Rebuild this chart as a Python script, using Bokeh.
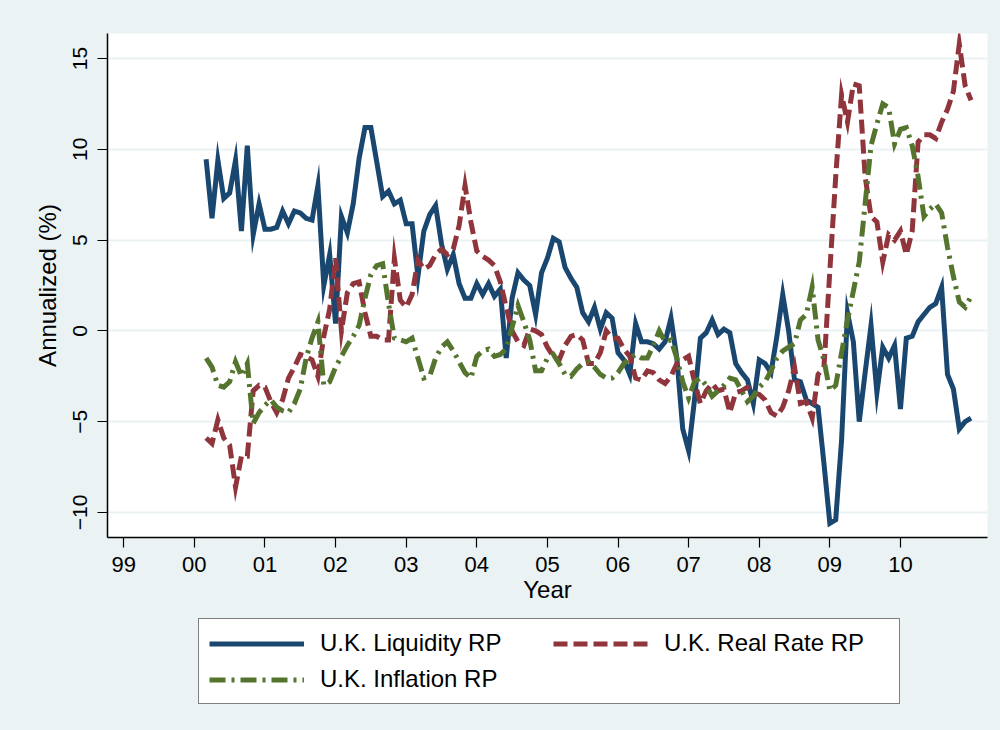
from bokeh.plotting import figure
from bokeh.layouts import column
from bokeh.models import Legend, LegendItem, FixedTicker, Range1d
from bokeh.embed import file_html
from bokeh.resources import INLINE

# Monthly series, starting March 2000
start_year = 2000
start_month = 3

liquidity = [9.45, 6.2, 9.4, 7.3, 7.6, 9.4, 5.5, 10.2, 5.3, 7.0,
             5.6, 5.6, 5.7, 6.6, 5.9, 6.6, 6.5, 6.2, 6.1, 8.0,
             2.5, 4.2, 0.4, 6.3, 5.4, 7.0, 9.5, 11.2, 11.2, 9.3,
             7.4, 7.7, 7.0, 7.2, 5.9, 5.9, 3.0, 5.5, 6.4, 6.9,
             4.8, 3.4, 4.2, 2.6, 1.8, 1.8, 2.6, 2.0, 2.6, 1.9,
             2.3, -1.5, 1.8, 3.2, 2.8, 2.5, 0.9, 3.2, 4.0, 5.1,
             4.9, 3.5, 2.9, 2.4, 1.0, 0.5, 1.3, 0.1, 1.0, 0.7,
             -1.2, -1.6, -2.4, 0.4, -0.6, -0.6, -0.7, -1.0, -0.6, 0.7,
             -1.5, -5.4, -6.6, -3.8, -0.4, -0.1, 0.6, -0.2, 0.1, -0.1,
             -1.8, -2.3, -2.7, -4.0, -1.6, -1.8, -2.3, -0.3, 2.0, 0.0,
             -2.7, -2.8, -3.8, -4.0, -4.2, -7.3, -10.6, -10.4, -6.0, 1.0,
             -0.6, -5.0, -2.3, 0.3, -3.4, -0.9, -1.5, -0.8, -4.3, -0.4,
             -0.3, 0.5, 0.9, 1.3, 1.5, 2.4, -2.4, -3.2, -5.4, -5.0,
             -4.8]

real_rate = [-5.9, -6.2, -4.9, -5.9, -6.3, -8.6, -6.9, -6.9, -3.3, -3.0,
             -3.1, -3.9, -4.5, -3.8, -2.6, -2.0, -1.3, -1.4, -1.6, -2.5,
             -0.3, 1.2, 4.0, 0.0, 2.1, 2.6, 2.7, 1.0, -0.3, -0.3,
             -0.5, -0.5, 4.0, 1.7, 1.3, 2.0, 3.9, 3.4, 3.6, 4.2,
             4.5, 4.2, 4.5, 5.8, 8.0, 6.0, 4.4, 4.1, 3.9, 3.6,
             2.7, 1.3, 0.0, -0.6, -0.8, 0.1, 0.0, -0.2, -0.9, -1.4,
             -1.6, -0.8, -0.3, -0.2, -0.5, -1.8, -1.8, -1.2, 0.0, -0.4,
             -0.4, -1.0, -1.4, -2.6, -2.7, -2.2, -2.3, -2.7, -2.9, -2.5,
             -1.8, -1.6, -1.4, -2.8, -4.0, -3.3, -2.9, -3.3, -3.2, -4.5,
             -3.4, -3.3, -3.1, -3.4, -3.5, -3.8, -4.5, -4.7, -4.2, -3.3,
             -2.0, -4.0, -3.9, -4.8, -2.4, -2.0, 3.3, 8.5, 13.0, 11.5,
             13.6, 13.5, 8.5, 6.3, 6.0, 3.8, 5.3, 5.0, 5.5, 4.2,
             5.5, 10.4, 10.8, 10.8, 10.6, 11.5, 12.2, 13.2, 15.8, 13.5,
             12.7]

inflation = [-1.5, -2.0, -3.0, -3.1, -2.8, -1.7, -2.5, -1.8, -5.1, -4.5,
             -4.1, -3.8, -4.2, -4.4, -4.5, -4.0, -3.2, -1.5, -0.4, 0.5,
             -3.0, -2.8, -2.0, -1.4, -0.8, -0.3, 0.3, 1.8, 3.1, 3.6,
             3.7, 1.5, -0.4, -0.5, -0.6, -0.4, -1.5, -2.6, -2.5, -1.5,
             -0.9, -0.6, -1.1, -1.7, -2.3, -2.6, -1.4, -1.1, -1.0, -1.4,
             -1.3, -1.0, 0.2, 1.4, 0.5, -0.5, -2.2, -2.2, -1.5, -1.3,
             -1.8, -2.4, -2.5, -2.1, -1.8, -1.7, -2.0, -2.4, -2.6, -2.6,
             -2.3, -1.8, -1.5, -1.3, -1.5, -1.5, -0.8, 0.0, -0.6, -0.5,
             -1.5, -2.8, -3.7, -2.8, -2.6, -3.0, -3.6, -3.3, -3.0, -2.6,
             -2.7, -3.3, -3.9, -3.6, -3.1, -2.8, -2.2, -1.5, -1.1, -0.9,
             -0.7, 0.6, 0.9, 2.4, -0.5, -1.6, -3.3, -3.0, -1.2, 0.6,
             2.2, 3.8, 7.0, 10.2, 11.4, 12.5, 12.3, 10.3, 11.1, 11.2,
             10.2, 8.5, 6.3, 6.7, 7.0, 6.5, 4.6, 3.0, 1.6, 1.3,
             1.9]

series_names = ["U.K. Liquidity RP", "U.K. Real Rate RP", "U.K. Inflation RP"]
tick_years = [1999, 2000, 2001, 2002, 2003, 2004, 2005, 2006, 2007, 2008, 2009, 2010]
tick_labels = ["99", "00", "01", "02", "03", "04", "05", "06", "07", "08", "09", "10"]
y_ticks = [-10, -5, 0, 5, 10, 15]

t = [start_year + (start_month - 1 + i) / 12 for i in range(len(liquidity))]

FONT = "Liberation Sans"
BG = "#EAF2F3"
COLORS = ["#1A476F", "#90353B", "#55752F"]
DASHES = ["solid", "14 6", "16 6 3 6"]
SERIES = [liquidity, real_rate, inflation]

p = figure(width=1000, height=612, output_backend="svg", toolbar_location=None,
           x_range=Range1d(1998.77, 2011.233), y_range=Range1d(-11.38, 16.38),
           min_border_left=107, min_border_right=13, min_border_top=33,
           min_border_bottom=75)
p.background_fill_color = "white"
p.border_fill_color = BG
p.outline_line_color = None

p.xgrid.visible = False
p.ygrid.ticker = FixedTicker(ticks=y_ticks)
p.ygrid.grid_line_color = BG
p.ygrid.grid_line_width = 2

for ax in (p.xaxis[0], p.yaxis[0]):
    ax.axis_line_color = "black"
    ax.axis_line_width = 1.5
    ax.major_tick_line_color = "black"
    ax.major_tick_line_width = 1.2
    ax.major_tick_out = 10
    ax.major_tick_in = 0
    ax.minor_tick_line_color = None
    ax.major_label_text_font = FONT
    ax.major_label_text_color = "black"
    ax.axis_label_text_font = FONT
    ax.axis_label_text_font_style = "normal"
    ax.axis_label_text_color = "black"
    ax.axis_label_text_font_size = "24px"

p.xaxis.ticker = FixedTicker(ticks=tick_years)
p.xaxis.major_label_overrides = dict(zip(tick_years, tick_labels))
p.xaxis.major_label_text_font_size = "22px"
p.xaxis.major_label_standoff = 9
p.xaxis.axis_label = "Year"
p.xaxis.axis_label_standoff = 1

p.yaxis.ticker = FixedTicker(ticks=y_ticks)
p.yaxis.major_label_orientation = "vertical"
p.yaxis.major_label_text_font_size = "21px"
p.yaxis.major_label_standoff = 10
p.yaxis.axis_label = "Annualized (%)"
p.yaxis.axis_label_standoff = 10

for vals, c, d in zip(SERIES, COLORS, DASHES):
    p.line(t, vals, line_color=c, line_width=5, line_dash=d, line_join="miter")

# Legend panel below the chart (its series lie outside its own view, only the key shows)
lg = figure(width=1000, height=118, output_backend="svg", toolbar_location=None,
            x_axis_type=None, y_axis_type=None,
            min_border_left=107, min_border_right=13, min_border_top=0,
            min_border_bottom=0,
            x_range=Range1d(0, 1), y_range=Range1d(0, 1))
lg.background_fill_color = BG
lg.border_fill_color = BG
lg.outline_line_color = None
keys = []
for name, vals, c, d in zip(series_names, SERIES, COLORS, DASHES):
    rr = lg.line(t, vals, line_color=c, line_width=5, line_dash=d)
    keys.append(LegendItem(label=name, renderers=[rr]))

legend = Legend(items=keys, orientation="horizontal", ncols=2, location=(91, 26),
                glyph_width=95, glyph_height=25, label_standoff=16,
                label_width=225, label_height=25, spacing=8, padding=10,
                border_line_color="black", border_line_width=1.5,
                background_fill_color="white", background_fill_alpha=1.0,
                label_text_font=FONT, label_text_font_size="24px",
                label_text_color="black", margin=0)
lg.add_layout(legend, "center")

page = column(p, lg, spacing=0, styles={"background-color": BG})
open("out.html", "w").write(file_html(page, INLINE))
